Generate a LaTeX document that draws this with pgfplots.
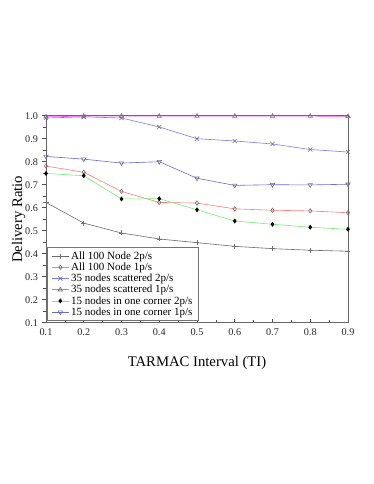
\documentclass[border=0pt]{standalone}
\usepackage{fontspec}
\setmainfont{Liberation Serif}
\usepackage{pgfplots}
\pgfplotsset{compat=1.18}
\definecolor{cgray}{HTML}{6A6A6A}
\definecolor{cred}{HTML}{FF7A7A}
\definecolor{cblue}{HTML}{7A7AFF}
\definecolor{cmag}{HTML}{FF50FF}
\definecolor{cgreen}{HTML}{70F070}
\definecolor{cblue2}{HTML}{6868E0}
\definecolor{cmark}{HTML}{707070}
\begin{document}
\begin{tikzpicture}[x=1pt,y=1pt]
\useasboundingbox (0,0) rectangle (374,484);
\begin{axis}[
  scale only axis,
  width=302pt, height=207pt,
  at={(46pt,161.3pt)}, anchor=south west,
  xmin=0.1, xmax=0.9, ymin=0.1, ymax=1.0,
  xtick={0.1,0.2,0.3,0.4,0.5,0.6,0.7,0.8,0.9},
  ytick={0.1,0.2,0.3,0.4,0.5,0.6,0.7,0.8,0.9,1.0},
  minor tick num=1,
  tick pos=left,
  xtick align=inside,
  ytick align=outside,
  major tick length=4pt,
  minor tick length=2.5pt,
  tick style={black!70, line width=0.5pt},
  axis line style={black!60, line width=0.6pt},
  /pgf/number format/.cd, fixed, fixed zerofill, precision=1, assume math mode=true,
  /pgfplots/.cd,
  ticklabel style={font=\fontsize{10.2}{12}\selectfont, black!85},
  xticklabel style={yshift=-2pt},
  yticklabel style={xshift=-0.5pt},
  xlabel={TARMAC Interval (TI)},
  ylabel={Delivery Ratio},
  label style={font=\fontsize{14.7}{16}\selectfont},
  xlabel style={at={(axis description cs:0.5,0)}, anchor=base, yshift=-44.3pt},
  ylabel style={at={(axis description cs:0,0.5)}, anchor=base, yshift=24pt},
  clip=false,
  legend cell align=left,
  legend style={at={(axis description cs:0.004,0.008)}, anchor=south west,
    draw=black!55, line width=0.6pt, font=\fontsize{11}{11}\selectfont,
    row sep=-1.9pt, inner ysep=2pt, inner xsep=4pt},
  every axis plot/.append style={line width=0.6pt, mark size=2.5pt},
]
\addplot[cgray, mark=+, mark options={cmark}] coordinates {(0.1,0.623)(0.2,0.533)(0.3,0.490)(0.4,0.464)(0.5,0.448)(0.6,0.432)(0.7,0.422)(0.8,0.415)(0.9,0.411)};
\addlegendentry{All 100 Node 2p/s}
\addplot[cred, mark=diamond, mark options={cmark, mark size=2.2pt}] coordinates {(0.1,0.781)(0.2,0.754)(0.3,0.671)(0.4,0.623)(0.5,0.620)(0.6,0.595)(0.7,0.589)(0.8,0.586)(0.9,0.578)};
\addlegendentry{All 100 Node 1p/s}
\addplot[cblue, mark=x, mark options={cmark, mark size=3pt}] coordinates {(0.1,0.990)(0.2,0.995)(0.3,0.990)(0.4,0.951)(0.5,0.900)(0.6,0.890)(0.7,0.877)(0.8,0.853)(0.9,0.842)};
\addlegendentry{35 nodes scattered 2p/s}
\addplot[cmag, mark=triangle, mark options={cmark}] coordinates {(0.1,0.995)(0.2,0.998)(0.3,0.998)(0.4,0.998)(0.5,0.998)(0.6,0.998)(0.7,0.998)(0.8,0.998)(0.9,0.997)};
\addlegendentry{35 nodes scattered 1p/s}
\addplot[cgreen, mark=diamond*, mark options={black, fill=black, mark size=2pt}] coordinates {(0.1,0.749)(0.2,0.739)(0.3,0.638)(0.4,0.639)(0.5,0.591)(0.6,0.542)(0.7,0.528)(0.8,0.515)(0.9,0.506)};
\addlegendentry{15 nodes in one corner 2p/s}
\addplot[cblue2, mark=triangle, mark options={cmark, rotate=180}] coordinates {(0.1,0.823)(0.2,0.811)(0.3,0.794)(0.4,0.800)(0.5,0.728)(0.6,0.697)(0.7,0.700)(0.8,0.699)(0.9,0.702)};
\addlegendentry{15 nodes in one corner 1p/s}
\end{axis}
\end{tikzpicture}
\end{document}
